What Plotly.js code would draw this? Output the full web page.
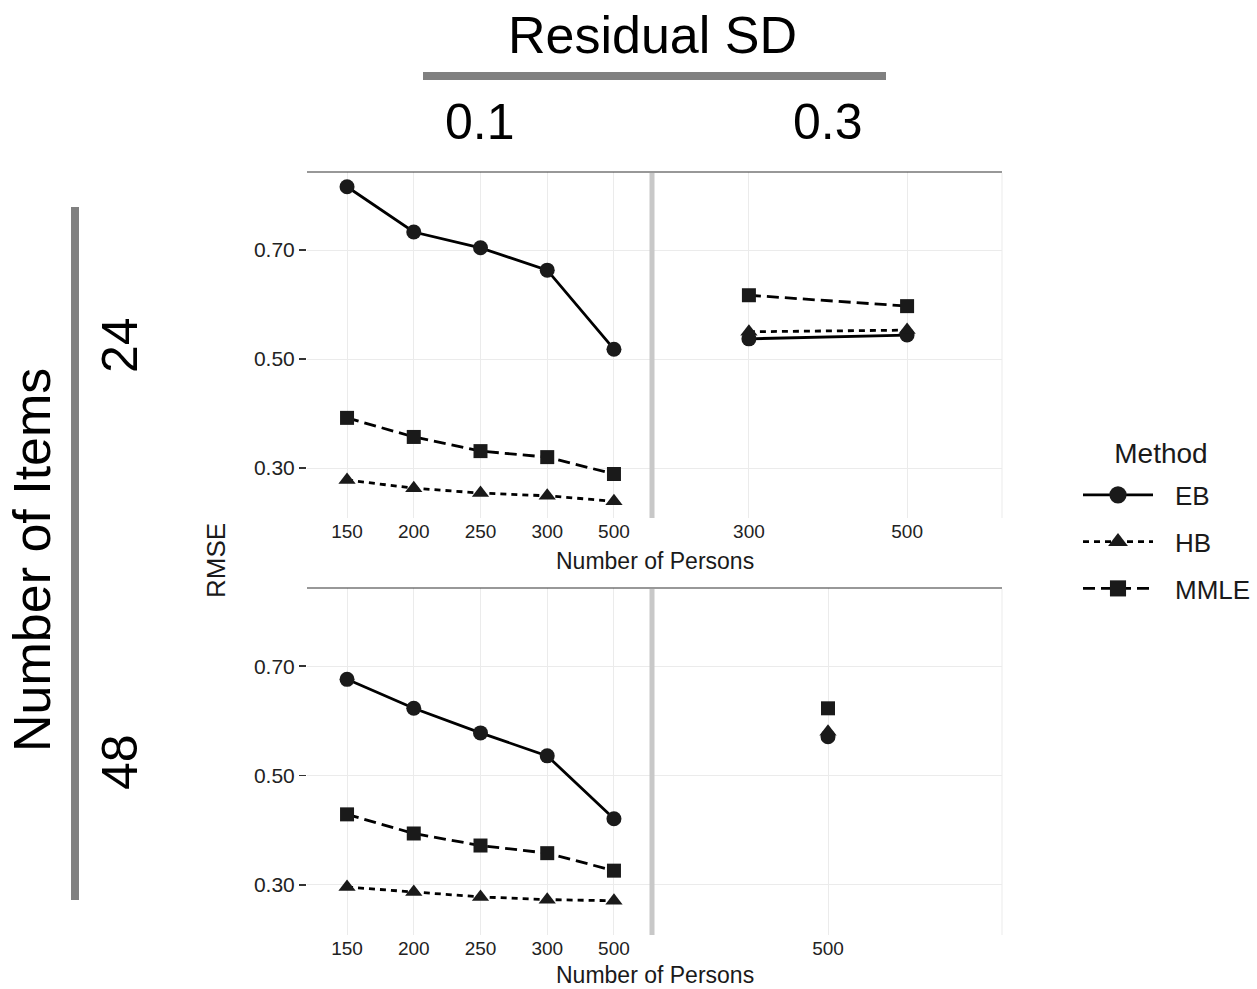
<!DOCTYPE html>
<html>
<head>
<meta charset="utf-8">
<script src="https://cdn.plot.ly/plotly-3.0.1.min.js"></script>
<style>html,body{margin:0;padding:0;background:#fff;}#chart{width:1257px;height:989px;}</style>
</head>
<body>
<div id="chart"></div>
<script>
// ---- data ----
var personsAll = ['150', '200', '250', '300', '500'];
var personsItems24Sd03 = ['300', '500'];
var personsItems48Sd03 = ['500'];

var eb_24_sd01   = [0.816, 0.733, 0.704, 0.663, 0.518];
var hb_24_sd01   = [0.278, 0.263, 0.254, 0.249, 0.239];
var mmle_24_sd01 = [0.392, 0.357, 0.331, 0.320, 0.289];

var eb_24_sd03   = [0.537, 0.544];
var hb_24_sd03   = [0.550, 0.553];
var mmle_24_sd03 = [0.617, 0.597];

var eb_48_sd01   = [0.676, 0.623, 0.578, 0.536, 0.421];
var hb_48_sd01   = [0.296, 0.287, 0.278, 0.273, 0.271];
var mmle_48_sd01 = [0.429, 0.394, 0.372, 0.358, 0.326];

var eb_48_sd03   = [0.571];
var hb_48_sd03   = [0.580];
var mmle_48_sd03 = [0.623];

var methods = ['EB', 'HB', 'MMLE'];
var yTickVals = [0.30, 0.50, 0.70];
var yTickText = ['0.30', '0.50', '0.70'];

// ---- styles ----
var W = 1257, H = 989;
var FONT = 'Arial, "Liberation Sans", sans-serif';
var styles = {
  EB:   {symbol: 'circle',       size: 15, dash: 'solid'},
  HB:   {symbol: 'triangle-up',  size: 15, dash: '6px,5px'},
  MMLE: {symbol: 'square',       size: 14, dash: '12px,6px'}
};

function px(x) { return x / W; }
function py(y) { return 1 - y / H; }

var panels = [
  {xa: 'x',  ya: 'y',  x: personsAll,         data: [eb_24_sd01, hb_24_sd01, mmle_24_sd01], legend: true},
  {xa: 'x2', ya: 'y2', x: personsItems24Sd03, data: [eb_24_sd03, hb_24_sd03, mmle_24_sd03], legend: false},
  {xa: 'x3', ya: 'y3', x: personsAll,         data: [eb_48_sd01, hb_48_sd01, mmle_48_sd01], legend: false},
  {xa: 'x4', ya: 'y4', x: personsItems48Sd03, data: [eb_48_sd03, hb_48_sd03, mmle_48_sd03], legend: false}
];

var traces = [];
panels.forEach(function (p) {
  methods.forEach(function (m, i) {
    var s = styles[m];
    traces.push({
      type: 'scatter', mode: 'lines+markers',
      x: p.x, y: p.data[i], xaxis: p.xa, yaxis: p.ya,
      name: m, legendgroup: m, showlegend: p.legend,
      line: {color: '#000000', width: 2.8, dash: s.dash},
      marker: {symbol: s.symbol, size: s.size, color: '#1a1a1a', line: {width: 0}},
      hoverinfo: 'x+y+name'
    });
  });
});

var xLeft = [px(307), px(650)];
var xRight = [px(654), px(1002)];
var yTop = [py(518), py(172)];
var yBot = [py(935), py(588)];
var yRange = [0.2083, 0.8431];

function xaxis(domain, anchor, cats, range) {
  return {
    domain: domain, anchor: anchor, type: 'category',
    categoryorder: 'array', categoryarray: cats, range: range,
    showgrid: true, gridcolor: '#ebebeb', gridwidth: 1,
    zeroline: false, showline: false, ticks: '',
    tickfont: {family: FONT, size: 19, color: '#222222'},
    fixedrange: true
  };
}
function yaxis(domain, anchor, showLabels) {
  return {
    domain: domain, anchor: anchor, range: yRange,
    tickmode: 'array', tickvals: yTickVals, ticktext: yTickText,
    showgrid: true, gridcolor: '#ebebeb', gridwidth: 1,
    zeroline: false, showline: false,
    ticks: showLabels ? 'outside' : '', ticklen: 7, tickwidth: 1.6, tickcolor: '#333333',
    showticklabels: showLabels,
    tickfont: {family: FONT, size: 21, color: '#222222'},
    fixedrange: true
  };
}

var shapes = [
  // top rules above each facet row
  {type: 'line', xref: 'paper', yref: 'paper', x0: px(307), x1: px(1002), y0: py(172), y1: py(172), line: {color: '#333333', width: 1.2}},
  {type: 'line', xref: 'paper', yref: 'paper', x0: px(307), x1: px(1002), y0: py(588), y1: py(588), line: {color: '#333333', width: 1.2}},
  // light grey separators between columns
  {type: 'line', xref: 'paper', yref: 'paper', x0: px(652), x1: px(652), y0: py(173), y1: py(518), line: {color: '#c8c8c8', width: 5}},
  {type: 'line', xref: 'paper', yref: 'paper', x0: px(652), x1: px(652), y0: py(589), y1: py(935), line: {color: '#c8c8c8', width: 5}},
  // faint right border of right column
  {type: 'line', xref: 'paper', yref: 'paper', x0: px(1002), x1: px(1002), y0: py(173), y1: py(518), line: {color: '#ebebeb', width: 1}},
  {type: 'line', xref: 'paper', yref: 'paper', x0: px(1002), x1: px(1002), y0: py(589), y1: py(935), line: {color: '#ebebeb', width: 1}},
  // big grey bars for facet headers
  {type: 'line', xref: 'paper', yref: 'paper', x0: px(423), x1: px(886), y0: py(76), y1: py(76), line: {color: '#808080', width: 8}},
  {type: 'line', xref: 'paper', yref: 'paper', x0: px(75), x1: px(75), y0: py(207), y1: py(900), line: {color: '#808080', width: 8}}
];

function ann(text, x, y, size, angle, color) {
  return {
    text: text, xref: 'paper', yref: 'paper', x: px(x), y: py(y),
    xanchor: 'center', yanchor: 'middle', showarrow: false, textangle: angle || 0,
    font: {family: FONT, size: size, color: color || '#000000'}
  };
}

var annotations = [
  ann('Residual SD', 652, 35, 52),
  ann('0.1', 480, 122, 50),
  ann('0.3', 828, 122, 50),
  ann('Number of Items', 32, 560, 52, -90),
  ann('24', 120, 345, 50, -90),
  ann('48', 120, 762, 50, -90),
  ann('Number of Persons', 655, 561, 23, 0, '#1a1a1a'),
  ann('Number of Persons', 655, 975, 23, 0, '#1a1a1a'),
  ann('RMSE', 216, 560, 26, -90, '#1a1a1a')
];

var layout = {
  width: W, height: H,
  margin: {l: 0, r: 0, t: 0, b: 0},
  paper_bgcolor: '#ffffff', plot_bgcolor: '#ffffff',
  font: {family: FONT, color: '#000000'},
  xaxis:  xaxis(xLeft,  'y',  personsAll, [-0.6, 4.54]),
  xaxis2: xaxis(xRight, 'y2', personsItems24Sd03, [-0.6, 1.6]),
  xaxis3: xaxis(xLeft,  'y3', personsAll, [-0.6, 4.54]),
  xaxis4: xaxis(xRight, 'y4', personsItems48Sd03, [-1.1, 1.1]),
  yaxis:  yaxis(yTop, 'x',  true),
  yaxis2: yaxis(yTop, 'x2', false),
  yaxis3: yaxis(yBot, 'x3', true),
  yaxis4: yaxis(yBot, 'x4', false),
  shapes: shapes,
  annotations: annotations,
  showlegend: true,
  legend: {
    x: px(1078), y: py(435), xanchor: 'left', yanchor: 'top',
    title: {text: 'Method', side: 'top center', font: {family: FONT, size: 28, color: '#1a1a1a'}},
    font: {family: FONT, size: 26, color: '#1a1a1a'},
    traceorder: 'grouped', tracegroupgap: 10, itemwidth: 87,
    bgcolor: 'rgba(0,0,0,0)', borderwidth: 0
  }
};

Plotly.newPlot('chart', traces, layout, {displayModeBar: false, staticPlot: true}).then(function (gd) {
  gd.querySelectorAll('.legend .legendlines path').forEach(function (p) {
    p.setAttribute('d', 'M5,0h70');
  });
  gd.querySelectorAll('.legend .legendpoints path.scatterpts').forEach(function (p) {
    p.setAttribute('transform', 'translate(40,0) scale(1.15)');
  });
  var t = gd.querySelector('.legend .legendtitletext');
  if (t) { t.setAttribute('transform', 'translate(-6,-8)'); }
});
</script>
</body>
</html>
